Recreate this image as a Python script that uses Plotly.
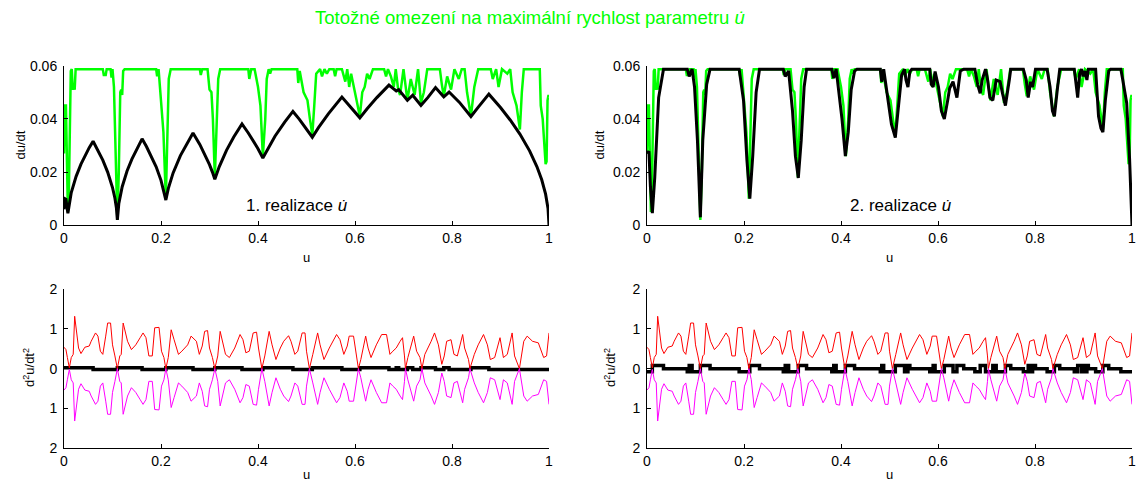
import plotly.graph_objects as go

# ---------------- data ----------------
# velocity limit (green), same in both upper panels
u_lim = [0.000,0.002,0.004,0.006,0.008,0.010,0.012,0.014,0.016,0.018,0.020,0.022,0.024,0.080,0.082,0.086,0.088,0.096,0.098,0.100,
         0.103,0.106,0.110,0.113,0.116,0.118,0.120,0.122,0.125,0.190,0.192,0.195,0.200,0.205,0.210,0.213,0.216,0.220,0.280,0.282,
         0.285,0.296,0.300,0.304,0.307,0.311,0.315,0.318,0.322,0.380,0.382,0.386,0.393,0.400,0.405,0.410,0.415,0.418,0.422,0.425,
         0.428,0.481,0.483,0.486,0.494,0.502,0.507,0.512,0.516,0.520,0.528,0.532,0.537,0.542,0.547,0.556,0.559,0.562,0.573,0.580,
         0.584,0.588,0.592,0.600,0.605,0.610,0.615,0.620,0.625,0.630,0.637,0.660,0.664,0.668,0.674,0.680,0.684,0.689,0.693,0.700,
         0.708,0.715,0.723,0.730,0.736,0.742,0.749,0.775,0.779,0.783,0.790,0.798,0.805,0.814,0.820,0.826,0.831,0.839,0.846,0.854,
         0.880,0.884,0.891,0.896,0.903,0.914,0.920,0.925,0.933,0.940,0.944,0.948,0.981,0.983,0.987,0.990,0.993,0.995,0.997,0.999,1.000]
v_lim = [0.027,0.045,0.045,0.028,0.005,0.012,0.040,0.058,0.0587,0.051,0.052,0.051,0.0587,0.0587,0.0565,0.0565,0.0587,0.0587,0.0555,0.0587,
         0.052,0.030,0.002,0.020,0.050,0.051,0.049,0.058,0.0587,0.0587,0.056,0.0587,0.048,0.035,0.010,0.030,0.055,0.0587,0.0587,0.0565,
         0.0587,0.0587,0.051,0.050,0.040,0.018,0.040,0.055,0.0587,0.0587,0.055,0.0587,0.0587,0.052,0.045,0.026,0.040,0.055,0.0587,0.057,
         0.0587,0.0587,0.0535,0.058,0.050,0.047,0.040,0.034,0.045,0.057,0.0587,0.056,0.0587,0.057,0.0587,0.0587,0.056,0.0587,0.0587,0.054,
         0.0587,0.052,0.057,0.050,0.045,0.041,0.050,0.052,0.057,0.055,0.0587,0.0587,0.056,0.0587,0.056,0.052,0.0587,0.051,0.049,0.0587,
         0.047,0.055,0.049,0.0587,0.046,0.050,0.0587,0.0587,0.053,0.0485,0.056,0.051,0.0587,0.055,0.0587,0.0587,0.050,0.041,0.052,0.0587,
         0.0587,0.055,0.0587,0.052,0.0587,0.057,0.0587,0.050,0.045,0.036,0.050,0.0587,0.0587,0.045,0.040,0.030,0.023,0.024,0.047,0.049,0.048]

# realization 1 velocity (black, upper left)
u_r1 = [0.000,0.002,0.004,0.008,0.015,0.025,0.035,0.045,0.052,0.060,0.070,0.080,0.090,0.100,0.105,0.108,0.110,0.113,0.120,0.130,
        0.140,0.150,0.161,0.170,0.180,0.190,0.200,0.205,0.210,0.215,0.225,0.240,0.255,0.266,0.280,0.290,0.300,0.306,0.311,0.320,
        0.335,0.350,0.367,0.380,0.390,0.400,0.410,0.420,0.435,0.455,0.472,0.485,0.500,0.512,0.525,0.545,0.573,0.590,0.610,0.625,
        0.645,0.670,0.685,0.690,0.708,0.719,0.736,0.750,0.766,0.783,0.794,0.815,0.839,0.855,0.876,0.900,0.920,0.940,0.960,0.975,
        0.985,0.993,0.998,1.000]
v_r1 = [0.0060,0.0100,0.0098,0.0045,0.0123,0.0184,0.0230,0.0268,0.0292,0.0316,0.0283,0.0245,0.0200,0.0142,0.0102,0.0066,0.0020,0.0081,0.0145,0.0204,
        0.0249,0.0288,0.0325,0.0296,0.0261,0.0220,0.0169,0.0137,0.0095,0.0138,0.0197,0.0262,0.0314,0.0347,0.0304,0.0269,0.0228,0.0200,0.0173,0.0220,
        0.0282,0.0332,0.0381,0.0347,0.0319,0.0288,0.0253,0.0288,0.0335,0.0388,0.0428,0.0399,0.0363,0.0331,0.0368,0.0419,0.0482,0.0448,0.0404,0.0438,
        0.0480,0.0527,0.0505,0.0510,0.0470,0.0489,0.0451,0.0480,0.0518,0.0483,0.0501,0.0463,0.0409,0.0446,0.0493,0.0443,0.0396,0.0343,0.0280,0.0221,
        0.0171,0.0117,0.0063,0.0000]

# realization 2 velocity (black, upper right)
u_r2 = [0.000,0.004,0.007,0.011,0.016,0.024,0.034,0.083,0.087,0.093,0.098,0.104,0.110,0.115,0.123,0.130,0.190,0.199,0.206,0.212,
        0.218,0.225,0.232,0.281,0.285,0.292,0.300,0.306,0.312,0.318,0.324,0.329,0.381,0.385,0.390,0.396,0.402,0.409,0.415,0.421,
        0.428,0.433,0.481,0.484,0.488,0.497,0.504,0.512,0.518,0.525,0.531,0.534,0.538,0.542,0.546,0.583,0.586,0.590,0.594,0.601,
        0.607,0.613,0.620,0.624,0.631,0.635,0.639,0.646,0.653,0.676,0.682,0.687,0.691,0.698,0.702,0.707,0.713,0.720,0.728,0.733,
        0.739,0.747,0.750,0.776,0.782,0.786,0.791,0.795,0.801,0.825,0.831,0.836,0.840,0.846,0.851,0.881,0.885,0.888,0.892,0.896,
        0.899,0.903,0.907,0.910,0.925,0.931,0.936,0.940,0.945,0.952,0.956,0.977,0.981,0.989,0.995,0.998,1.000]
v_r2 = [0.027,0.0278,0.0146,0.0046,0.018,0.048,0.0587,0.0587,0.056,0.0587,0.052,0.032,0.003,0.032,0.053,0.0587,0.0587,0.047,0.0246,0.010,
        0.026,0.050,0.0587,0.0587,0.056,0.058,0.043,0.026,0.0178,0.032,0.052,0.0587,0.0587,0.0553,0.0587,0.050,0.040,0.026,0.035,0.051,
        0.058,0.0587,0.0587,0.054,0.0587,0.047,0.038,0.033,0.043,0.0565,0.0587,0.0546,0.052,0.0578,0.0587,0.0587,0.053,0.052,0.0578,0.052,
        0.043,0.040,0.047,0.0515,0.054,0.051,0.048,0.058,0.0587,0.0587,0.0527,0.0496,0.0546,0.0587,0.055,0.048,0.047,0.0546,0.054,0.0496,
        0.045,0.0546,0.0587,0.0587,0.0546,0.048,0.054,0.052,0.0587,0.0587,0.052,0.043,0.041,0.051,0.0587,0.0587,0.053,0.048,0.057,0.0587,
        0.056,0.058,0.0546,0.0587,0.0587,0.041,0.0365,0.035,0.047,0.058,0.0587,0.0587,0.0546,0.046,0.025,0.010,0.000]

# acceleration limit (red = upper, magenta = lower mirror)
u_acc = [0.000,0.004,0.007,0.011,0.015,0.019,0.022,0.026,0.030,0.035,0.043,0.052,0.056,0.065,0.070,0.075,0.080,0.086,0.090,0.096,
         0.100,0.105,0.110,0.115,0.118,0.122,0.126,0.131,0.139,0.148,0.157,0.163,0.169,0.175,0.182,0.187,0.196,0.201,0.206,0.210,
         0.215,0.221,0.227,0.236,0.243,0.255,0.262,0.273,0.279,0.285,0.290,0.296,0.300,0.306,0.311,0.317,0.322,0.327,0.333,0.341,
         0.352,0.363,0.369,0.375,0.382,0.390,0.397,0.401,0.405,0.408,0.414,0.423,0.429,0.437,0.446,0.453,0.463,0.468,0.476,0.482,
         0.491,0.497,0.500,0.506,0.513,0.523,0.528,0.536,0.547,0.562,0.569,0.577,0.584,0.588,0.597,0.601,0.607,0.612,0.622,0.627,
         0.633,0.644,0.655,0.665,0.672,0.678,0.685,0.693,0.698,0.702,0.704,0.709,0.721,0.727,0.734,0.738,0.744,0.757,0.764,0.772,
         0.779,0.784,0.789,0.798,0.804,0.811,0.822,0.826,0.834,0.837,0.846,0.854,0.865,0.873,0.879,0.888,0.899,0.906,0.914,0.924,
         0.929,0.939,0.948,0.955,0.966,0.978,0.989,0.995,1.000]
a_up = [0.54,0.48,0.28,0.02,0.28,0.36,1.32,0.94,0.52,0.38,0.54,0.57,0.69,0.90,0.82,0.44,0.36,0.82,1.15,1.15,
        0.60,0.32,0.00,0.32,0.36,1.15,0.94,0.69,0.48,0.60,0.78,0.90,0.78,0.32,0.32,1.03,1.04,0.44,0.28,0.00,
        0.28,0.98,0.73,0.36,0.44,0.60,0.82,0.69,0.36,0.57,0.94,0.96,0.52,0.28,0.00,0.32,0.94,0.69,0.36,0.28,
        0.52,0.86,0.73,0.40,0.44,0.90,0.92,0.52,0.23,0.00,0.32,0.94,0.60,0.23,0.52,0.69,0.83,0.69,0.36,0.44,
        0.90,0.90,0.44,0.00,0.36,0.90,0.60,0.23,0.52,0.86,0.73,0.36,0.57,0.82,0.82,0.44,0.00,0.23,0.82,0.52,
        0.28,0.60,0.86,0.86,0.36,0.44,0.52,0.69,0.78,0.32,0.00,0.28,0.82,0.44,0.28,0.00,0.36,0.69,0.90,0.60,
        0.11,0.32,0.69,0.73,0.36,0.32,0.86,0.52,0.23,0.00,0.36,0.60,0.86,0.60,0.23,0.28,0.78,0.28,0.36,0.90,
        0.32,0.00,0.69,0.82,0.69,0.65,0.28,0.32,0.90]
a_low = [-a for a in a_up]

# realization accelerations (black, lower panels; step-wise)
u_acc1 = [0.0,0.060,0.110,0.161,0.210,0.266,0.311,0.367,0.410,0.472,0.512,0.573,0.610,0.670,0.685,0.690,0.708,0.719,0.736,0.766,
          0.783,0.794,0.839,0.876,1.0]
a_acc1 = [0.02,-0.02,0.02,-0.02,0.02,-0.02,0.02,-0.02,0.02,-0.02,0.02,-0.02,0.02,-0.02,0.02,-0.02,0.02,-0.02,0.02,-0.02,
          0.02,-0.02,0.02,-0.02,-0.02]
u_acc2 = [0.0,0.011,0.034,0.083,0.087,0.093,0.110,0.130,0.190,0.212,0.232,0.281,0.285,0.292,0.312,0.329,0.381,0.385,0.390,0.409,
          0.428,0.481,0.484,0.488,0.512,0.531,0.538,0.542,0.583,0.590,0.594,0.613,0.631,0.639,0.653,0.676,0.687,0.698,0.713,0.720,
          0.739,0.750,0.776,0.786,0.791,0.795,0.801,0.825,0.840,0.851,0.881,0.888,0.896,0.899,0.903,0.907,0.910,0.925,0.940,0.952,
          0.977,1.000]
a_acc2 = [-0.08,0.08,0,-0.08,0.08,-0.08,0.08,0,-0.08,0.08,0,-0.08,0.08,-0.08,0.08,0,-0.08,0.08,-0.08,0.08,
          0,-0.08,0.08,-0.08,0.08,-0.08,0.08,0,-0.08,0.08,-0.08,0.08,-0.08,0.08,0,-0.08,0.08,-0.08,0.08,-0.08,
          0.08,0,-0.08,0.08,-0.08,0.08,0,-0.08,0.08,0,-0.08,0.08,-0.08,0.08,-0.08,0.08,0,-0.08,0.08,0,
          -0.08,-0.08]

x_ticks = [0, 0.2, 0.4, 0.6, 0.8, 1]
x_ticktext = ["0", "0.2", "0.4", "0.6", "0.8", "1"]
v_ticks = [0, 0.02, 0.04, 0.06]
v_ticktext = ["0", "0.02", "0.04", "0.06"]
a_ticks = [-2, -1, 0, 1, 2]
a_ticktext = ["2", "1", "0", "1", "2"]

title_text = "Totožné omezení na maximální rychlost parametru <i>u̇</i>"
label1 = "1. realizace <i>u̇</i>"
label2 = "2. realizace <i>u̇</i>"

# ---------------- figure ----------------
GREEN = "#00ff00"
FONT = "Liberation Sans, Arial, sans-serif"
W, H = 1137, 483

fig = go.Figure()

def add(x, y, xa, ya, color, width, shape="linear"):
    fig.add_trace(go.Scatter(x=x, y=y, xaxis=xa, yaxis=ya, mode="lines",
                             line=dict(color=color, width=width, shape=shape),
                             hoverinfo="skip", showlegend=False))

# upper left
add(u_lim, v_lim, "x", "y", GREEN, 2.5)
add(u_r1, v_r1, "x", "y", "black", 3)
# upper right
add(u_lim, v_lim, "x2", "y2", GREEN, 2.5)
add(u_r2, v_r2, "x2", "y2", "black", 3)
# lower left
add(u_acc1, a_acc1, "x3", "y3", "black", 3.5, "hv")
add(u_acc, a_up, "x3", "y3", "#ff0000", 1)
add(u_acc, a_low, "x3", "y3", "#ff00ff", 1)
# lower right
add(u_acc2, a_acc2, "x4", "y4", "black", 3.5, "hv")
add(u_acc, a_up, "x4", "y4", "#ff0000", 1)
add(u_acc, a_low, "x4", "y4", "#ff00ff", 1)

xl = [64 / W, 549 / W]
xr = [647 / W, 1132 / W]
yt = [(H - 225.3) / H, (H - 65.7) / H]
yb = [(H - 448) / H, (H - 289.3) / H]

tickfont = dict(family=FONT, size=14, color="black")

def xax(dom, anchor):
    return dict(domain=dom, anchor=anchor, range=[0, 1], tickvals=x_ticks, ticktext=x_ticktext,
                showline=True, linecolor="black", linewidth=1, ticks="inside", ticklen=4,
                tickcolor="black", showgrid=False, zeroline=False, tickfont=tickfont,
                mirror=False, fixedrange=True, automargin=False)

def yax(dom, anchor, rng, tv, tt):
    return dict(domain=dom, anchor=anchor, range=rng, tickvals=tv, ticktext=tt,
                showline=True, linecolor="black", linewidth=1, ticks="inside", ticklen=4,
                tickcolor="black", showgrid=False, zeroline=False, tickfont=tickfont,
                mirror=False, fixedrange=True, automargin=False, ticklabelstandoff=3)

fig.update_layout(
    width=W, height=H, margin=dict(l=0, r=0, t=0, b=0, pad=0, autoexpand=False),
    paper_bgcolor="white", plot_bgcolor="white",
    xaxis=xax(xl, "y"), yaxis=yax(yt, "x", [0, 0.06], v_ticks, v_ticktext),
    xaxis2=xax(xr, "y2"), yaxis2=yax(yt, "x2", [0, 0.06], v_ticks, v_ticktext),
    xaxis3=xax(xl, "y3"), yaxis3=yax(yb, "x3", [-2, 2], a_ticks, a_ticktext),
    xaxis4=xax(xr, "y4"), yaxis4=yax(yb, "x4", [-2, 2], a_ticks, a_ticktext),
    font=dict(family=FONT, color="black"),
)

ann = []
ann.append(dict(text=title_text, x=530 / W, y=(H - 17) / H, xref="paper", yref="paper",
                showarrow=False, font=dict(family=FONT, size=18.5, color=GREEN),
                xanchor="center", yanchor="middle"))
ann.append(dict(text=label1, x=0.48, y=0.0076, xref="x", yref="y", showarrow=False,
                font=dict(family=FONT, size=17, color="black"), xanchor="center", yanchor="middle"))
ann.append(dict(text=label2, x=0.523, y=0.0076, xref="x2", yref="y2", showarrow=False,
                font=dict(family=FONT, size=17, color="black"), xanchor="center", yanchor="middle"))
lab = dict(family=FONT, size=13, color="black")
for cx, cy in [((64 + 549) / 2, 257), ((647 + 1132) / 2, 257), ((64 + 549) / 2, 474), ((647 + 1132) / 2, 474)]:
    ann.append(dict(text="u", x=cx / W, y=(H - cy) / H, xref="paper", yref="paper", showarrow=False,
                    font=lab, xanchor="center", yanchor="middle"))
for cx, cy, t in [(20, 145.5, "du/dt"), (599, 145.5, "du/dt"),
                  (29, 368, "d<sup>2</sup>u/dt<sup>2</sup>"), (610, 368, "d<sup>2</sup>u/dt<sup>2</sup>")]:
    ann.append(dict(text=t, x=cx / W, y=(H - cy) / H, xref="paper", yref="paper", showarrow=False,
                    font=lab, xanchor="center", yanchor="middle", textangle=-90))
fig.update_layout(annotations=ann)

fig.write_html("out.html")
